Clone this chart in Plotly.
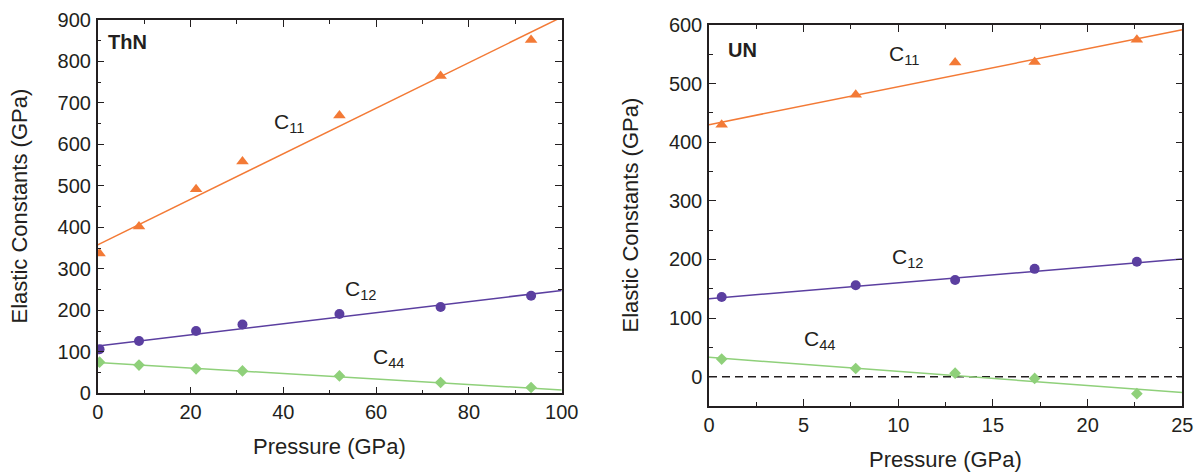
import plotly.graph_objects as go

# ---------------- data ----------------
# ThN (left panel)
thn_p = [0.4, 8.9, 21.2, 31.2, 52.1, 73.9, 93.4]
thn_c11 = [337, 402, 492, 559, 670, 765, 852]
thn_c12 = [106, 126, 150, 166, 191, 208, 235]
thn_c44 = [75, 68, 59, 54, 42, 26, 14]
thn_fit_p = [0, 100]
thn_c11_fit = [358, 907]
thn_c12_fit = [114, 248]
thn_c44_fit = [74, 8]

# UN (right panel)
un_p = [0.67, 7.75, 13.0, 17.2, 22.6]
un_c11 = [430, 481, 536, 537, 575]
un_c12 = [136, 156, 165, 184, 196]
un_c44 = [30, 14, 6, -3, -29]
un_fit_p = [0, 25]
un_c11_fit = [430, 592]
un_c12_fit = [133, 201]
un_c44_fit = [33, -27]
un_zero_p = [0, 25]
un_zero = [0, 0]

ORANGE = "#f37a36"
PURPLE = "#5b3fa0"
GREEN = "#8fd07a"
INK = "#231f20"
FONT = "Liberation Sans, Arial, sans-serif"
TICK_SIZE = 20
TITLE_SIZE = 22
LABEL_SIZE = 21

fig = go.Figure()

def add_set(p, vals, fp, fvals, color, symbol, size, xa, ya):
    fig.add_trace(go.Scatter(x=fp, y=fvals, mode="lines",
                             line=dict(color=color, width=1.5),
                             xaxis=xa, yaxis=ya, showlegend=False, hoverinfo="skip"))
    fig.add_trace(go.Scatter(x=p, y=vals, mode="markers",
                             marker=dict(color=color, symbol=symbol, size=size),
                             xaxis=xa, yaxis=ya, showlegend=False))

add_set(thn_p, thn_c11, thn_fit_p, thn_c11_fit, ORANGE, "triangle-up", 11, "x", "y")
add_set(thn_p, thn_c12, thn_fit_p, thn_c12_fit, PURPLE, "circle", 10, "x", "y")
add_set(thn_p, thn_c44, thn_fit_p, thn_c44_fit, GREEN, "diamond", 9, "x", "y")

fig.add_trace(go.Scatter(x=un_zero_p, y=un_zero, mode="lines",
                         line=dict(color=INK, width=1.5, dash="8px,5px"),
                         xaxis="x2", yaxis="y2", showlegend=False, hoverinfo="skip"))
add_set(un_p, un_c11, un_fit_p, un_c11_fit, ORANGE, "triangle-up", 11, "x2", "y2")
add_set(un_p, un_c12, un_fit_p, un_c12_fit, PURPLE, "circle", 10, "x2", "y2")
add_set(un_p, un_c44, un_fit_p, un_c44_fit, GREEN, "diamond", 9, "x2", "y2")

# body margin is removed by post_script, so the figure sits at (0, 0)
W, H = 1201, 472

def px_x(v):
    return v / W

def px_y(v):
    return 1 - v / H

def ax_common(rng, dtick, minor_dtick):
    return dict(range=rng, dtick=dtick, tick0=0, ticks="inside", ticklen=7,
                tickwidth=1.3, tickcolor=INK, showline=True, linecolor=INK,
                linewidth=1.5, mirror="allticks", showgrid=False, zeroline=False,
                tickfont=dict(family=FONT, size=TICK_SIZE, color=INK),
                minor=dict(ticks="inside", dtick=minor_dtick, ticklen=4,
                           tickwidth=1.3, tickcolor=INK, showgrid=False),
                fixedrange=True)

xa1 = ax_common([0, 100], 20, 10)
xa1.update(domain=[px_x(97.7), px_x(561.7)], anchor="y", ticklabelstandoff=0)
ya1 = ax_common([0, 900], 100, 50)
ya1.update(domain=[px_y(393.3), px_y(20)], anchor="x", ticklabelstandoff=1)
xa2 = ax_common([0, 25], 5, 2.5)
xa2.update(domain=[px_x(709), px_x(1182.3)], anchor="y2", ticklabelstandoff=0)
ya2 = ax_common([-50, 600], 100, 50)
ya2.update(domain=[px_y(406), px_y(25)], anchor="x2", ticklabelstandoff=1,
           tickvals=[0, 100, 200, 300, 400, 500, 600])

def txt(x, y, s, xref, yref, size=LABEL_SIZE, bold=False, angle=0, xanchor="left",
        yanchor="middle"):
    return dict(x=x, y=y, xref=xref, yref=yref, text=(f"<b>{s}</b>" if bold else s),
                showarrow=False, xanchor=xanchor, yanchor=yanchor, textangle=angle,
                font=dict(family=FONT, size=size, color=INK))

annotations = [
    txt(1.8, 848, "ThN", "x", "y", size=TICK_SIZE, bold=True),
    txt(37.5, 652, "C<sub>11</sub>", "x", "y"),
    txt(52.8, 250, "C<sub>12</sub>", "x", "y"),
    txt(59.0, 85, "C<sub>44</sub>", "x", "y"),
    txt(0.9, 557, "UN", "x2", "y2", size=TICK_SIZE, bold=True),
    txt(9.4, 548, "C<sub>11</sub>", "x2", "y2"),
    txt(9.55, 203, "C<sub>12</sub>", "x2", "y2"),
    txt(4.9, 62, "C<sub>44</sub>", "x2", "y2"),
    # axis titles
    txt(px_x(19), px_y(206.5), "Elastic Constants (GPa)", "paper", "paper",
        size=TITLE_SIZE, angle=-90, xanchor="center"),
    txt(px_x(630), px_y(215.5), "Elastic Constants (GPa)", "paper", "paper",
        size=TITLE_SIZE, angle=-90, xanchor="center"),
    txt(px_x(329.7), px_y(446), "Pressure (GPa)", "paper", "paper",
        size=TITLE_SIZE, xanchor="center"),
    txt(px_x(945.7), px_y(459), "Pressure (GPa)", "paper", "paper",
        size=TITLE_SIZE, xanchor="center"),
]

fig.update_layout(
    width=W, height=H,
    margin=dict(l=0, r=0, t=0, b=0, autoexpand=False),
    paper_bgcolor="white", plot_bgcolor="white",
    xaxis=xa1, yaxis=ya1, xaxis2=xa2, yaxis2=ya2,
    annotations=annotations,
    font=dict(family=FONT, color=INK),
)

fig.write_html(
    "out.html",
    config={"displayModeBar": False},
    post_script="document.body.style.margin='0px';document.body.style.overflow='hidden';",
)
